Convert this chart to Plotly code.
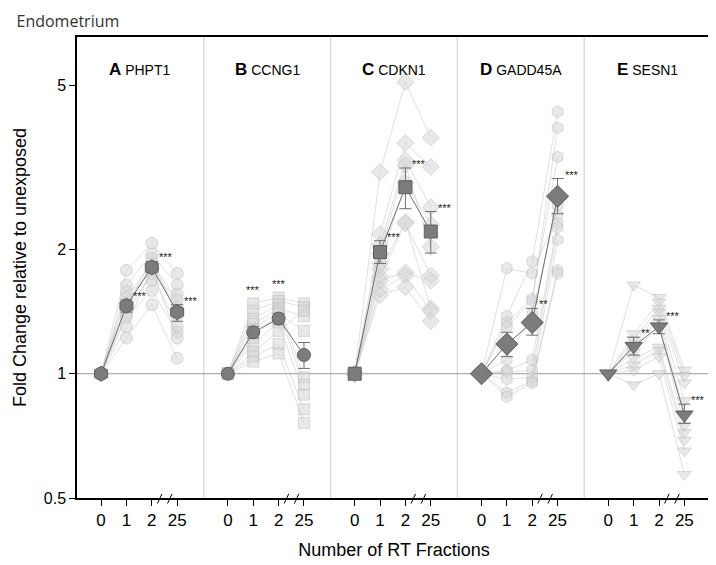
import plotly.graph_objects as go
import numpy as np

# panels
genes = ["PHPT1", "CCNG1", "CDKN1", "GADD45A", "SESN1"]
letters = ["A", "B", "C", "D", "E"]
fractions = ["0", "1", "2", "25"]

# individual samples (fold change at 1, 2 and 25 fractions; 0 fractions = 1)
phpt1_f1 = [1.78, 1.64, 1.58, 1.53, 1.48, 1.45, 1.40, 1.37, 1.30, 1.22]
phpt1_f2 = [2.07, 1.95, 1.68, 1.85, 1.82, 1.90, 1.75, 1.59, 1.80, 1.47]
phpt1_f25 = [1.75, 1.64, 1.56, 1.51, 1.45, 1.38, 1.30, 1.26, 1.22, 1.09]

ccng1_f1 = [1.48, 1.42, 1.36, 1.32, 1.28, 1.22, 1.18, 1.13, 1.10, 1.07]
ccng1_f2 = [1.53, 1.50, 1.47, 1.44, 1.42, 1.40, 1.33, 1.27, 1.18, 1.12]
ccng1_f25 = [1.48, 1.45, 0.98, 1.38, 0.94, 1.27, 0.89, 1.42, 0.82, 0.76]

cdkn1_f1 = [3.08, 2.18, 2.05, 1.95, 1.85, 1.79, 1.72, 1.68, 1.60, 1.55]
cdkn1_f2 = [5.09, 3.62, 3.29, 3.20, 2.90, 2.33, 2.31, 1.76, 1.73, 1.62]
cdkn1_f25 = [3.73, 3.17, 2.53, 2.03, 2.30, 1.44, 1.73, 1.68, 1.42, 1.34]

gadd45a_f1 = [1.80, 1.38, 1.33, 1.30, 1.08, 1.02, 1.01, 0.97, 0.90, 0.88]
gadd45a_f2 = [1.75, 1.87, 1.52, 1.50, 1.40, 1.08, 1.02, 0.98, 0.96, 0.95]
gadd45a_f25 = [2.42, 4.31, 3.35, 3.94, 2.56, 2.31, 2.26, 2.11, 1.78, 1.75]

sesn1_f1 = [1.64, 1.25, 1.21, 1.18, 1.16, 1.13, 1.09, 1.05, 1.02, 0.94]
sesn1_f2 = [1.53, 1.49, 1.44, 1.41, 1.36, 1.30, 1.16, 1.14, 1.10, 1.00]
sesn1_f25 = [1.02, 0.99, 0.95, 0.86, 0.80, 0.75, 0.72, 0.69, 0.65, 0.57]

# group means and error bar ends
mean_vals = [
    [1, 1.46, 1.81, 1.41],
    [1, 1.26, 1.36, 1.11],
    [1, 1.97, 2.83, 2.21],
    [1, 1.18, 1.33, 2.69],
    [1, 1.165, 1.30, 0.795],
]
err_hi = [
    [1, 1.51, 1.87, 1.47],
    [1, 1.30, 1.40, 1.19],
    [1, 2.10, 3.15, 2.47],
    [1, 1.26, 1.44, 2.97],
    [1, 1.225, 1.35, 0.844],
]
err_lo = [
    [1, 1.41, 1.76, 1.34],
    [1, 1.22, 1.32, 1.03],
    [1, 1.85, 2.51, 1.96],
    [1, 1.10, 1.24, 2.44],
    [1, 1.11, 1.25, 0.758],
]
signif = [
    ["", "***", "***", "***"],
    ["", "***", "***", ""],
    ["", "***", "***", "***"],
    ["", "", "**", "***"],
    ["", "**", "***", "***"],
]

indiv = [
    (phpt1_f1, phpt1_f2, phpt1_f25),
    (ccng1_f1, ccng1_f2, ccng1_f25),
    (cdkn1_f1, cdkn1_f2, cdkn1_f25),
    (gadd45a_f1, gadd45a_f2, gadd45a_f25),
    (sesn1_f1, sesn1_f2, sesn1_f25),
]

ind_symbols = ["circle", "square", "diamond", "hexagon", "triangle-down"]
ind_sizes = [12, 11, 13, 12, 12]
mean_symbols = ["hexagon", "circle", "square", "diamond", "triangle-down"]
mean_sizes = [15, 13, 13, 17, 15]

FONT = "Arial"
fig = go.Figure()

tickvals, ticktext = [], []
for k in range(5):
    xs = [5 * k + 0.95 + i for i in range(4)]
    tickvals += xs
    ticktext += fractions
    f1, f2, f25 = indiv[k]
    for j in range(len(f1)):
        fig.add_trace(go.Scatter(
            x=xs, y=[1, f1[j], f2[j], f25[j]], mode="lines+markers",
            line=dict(color="rgba(190,190,190,0.6)", width=0.8),
            marker=dict(symbol=ind_symbols[k], size=ind_sizes[k], color="rgba(215,215,215,0.55)",
                        line=dict(color="rgba(185,185,185,0.5)", width=1)),
            showlegend=False, hoverinfo="skip"))
    m = np.array(mean_vals[k])
    fig.add_trace(go.Scatter(
        x=xs, y=m, mode="lines+markers",
        line=dict(color="#6e6e6e", width=1),
        marker=dict(symbol=mean_symbols[k], size=mean_sizes[k], color="#7c7c7c",
                    line=dict(color="#5e5e5e", width=1)),
        error_y=dict(type="data", symmetric=False,
                     array=np.array(err_hi[k]) - m, arrayminus=m - np.array(err_lo[k]),
                     color="#6e6e6e", thickness=1, width=6),
        showlegend=False))
    # significance stars
    for i in range(4):
        if not signif[k][i]:
            continue
        if k == 1:
            fig.add_annotation(x=xs[i], y=np.log10(max(indiv[k][i - 1])), text=signif[k][i],
                               showarrow=False, yshift=13, font=dict(size=11, color="#222", family=FONT))
        else:
            fig.add_annotation(x=xs[i], y=np.log10(err_hi[k][i]), text=signif[k][i],
                               showarrow=False, xanchor="left", xshift=5, yshift=4,
                               font=dict(size=11, color="#222", family=FONT))
    # panel title
    fig.add_annotation(x=5 * k + 2.5, y=0.955, yref="paper",
                       text="<b><span style='font-size:17px'>" + letters[k] + "</span></b> " + genes[k],
                       showarrow=False, font=dict(size=14, color="black", family=FONT))
    # axis break marks
    for off in [0.22, 0.62]:
        fig.add_shape(type="line", x0=xs[2] + off, x1=xs[2] + off + 0.18, y0=-0.012, y1=0.009,
                      xref="x", yref="paper", line=dict(color="black", width=1))
    if k > 0:
        fig.add_shape(type="line", x0=5 * k, x1=5 * k, y0=0, y1=1, xref="x", yref="paper",
                      line=dict(color="#d4d4d4", width=1.2), layer="below")

fig.add_shape(type="line", x0=0, x1=25, y0=1, y1=1, xref="x", yref="y",
              line=dict(color="#999999", width=1), layer="below")

# page body has an 8px margin, so the figure is 8px smaller in each direction
fig.update_layout(
    width=708, height=557,
    margin=dict(l=69, r=3, t=29, b=67),
    plot_bgcolor="white", paper_bgcolor="white",
    font=dict(family=FONT, color="black"),
    title=dict(text="Endometrium", x=0.012, xanchor="left", y=0.986, yanchor="top",
               font=dict(size=16, family="Open Sans, sans-serif", color="#333")),
)
fig.update_xaxes(range=[0, 25], tickvals=tickvals, ticktext=ticktext, ticks="outside",
                 ticklen=6, tickcolor="black", showgrid=False, zeroline=False,
                 showline=True, mirror=True, linecolor="black", linewidth=1.5,
                 tickfont=dict(size=17),
                 title=dict(text="Number of RT Fractions", font=dict(size=18), standoff=14))
fig.update_yaxes(type="log", range=[np.log10(0.5), np.log10(6.54)],
                 tickvals=[0.5, 1, 2, 5], ticktext=["0.5", "1", "2", "5"],
                 ticks="outside", ticklen=6, tickcolor="black", showgrid=False, zeroline=False,
                 showline=True, mirror=True, linecolor="black", linewidth=1.5,
                 tickfont=dict(size=16),
                 title=dict(text="Fold Change relative to unexposed", font=dict(size=18), standoff=12))

fig.write_html("out.html")
